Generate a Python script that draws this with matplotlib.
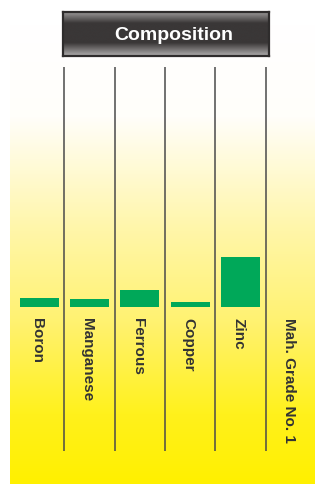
import matplotlib.pyplot as plt
import numpy as np
from matplotlib.colors import LinearSegmentedColormap

categories = ["Boron", "Manganese", "Ferrous", "Copper", "Zinc", "Mah. Grade No. 1"]
bar_values = [0.87, 0.8, 1.7, 0.5, 5.0]
title = "Composition"

W, H = 315, 485
fig = plt.figure(figsize=(W / 100, H / 100), dpi=100)
FONT = ["Liberation Sans", "DejaVu Sans"]


def px_axes(x0, y0, x1, y1, **kw):
    # axes from pixel box (top-left origin)
    return fig.add_axes([x0 / W, 1 - y1 / H, (x1 - x0) / W, (y1 - y0) / H], **kw)


# background gradient: white at top to yellow at bottom
bg = px_axes(10, 25, 315, 485)
bg.set_axis_off()
grad_cmap = LinearSegmentedColormap.from_list(
    "wy", [(0.0, "#ffffff"), (0.2, "#fffefa"), (0.45, "#fff6a8"),
           (0.65, "#fff270"), (0.85, "#fff11c"), (1.0, "#fff000")]
)
g = np.linspace(0, 1, 256).reshape(-1, 1)
bg.imshow(g, aspect="auto", cmap=grad_cmap, extent=[0, 1, 0, 1], origin="upper")
bg.set_xlim(0, 1)
bg.set_ylim(0, 1)

# title bar with metallic gradient
tb = px_axes(63, 13, 269, 57)
tb.set_xticks([])
tb.set_yticks([])
for s in tb.spines.values():
    s.set_color("#2e2c2c")
    s.set_linewidth(1.6)
metal = LinearSegmentedColormap.from_list(
    "metal", [(0.0, "#9a9898"), (0.25, "#3a3737"), (0.7, "#3a3737"), (1.0, "#b0aeae")]
)
tb.imshow(g, aspect="auto", cmap=metal, extent=[0, 1, 0, 1], origin="upper")
tb.set_xlim(0, 1)
tb.set_ylim(0, 1)
tb.text(0.54, 0.5, title, color="white", fontsize=14, fontweight="bold",
        family=FONT, ha="center", va="center", transform=tb.transAxes)

# main chart
ax = px_axes(14, 68, 316, 452)
ax.patch.set_alpha(0)
ax.set_axis_off()
ax.set_xlim(-0.5, len(categories) - 0.5)
ax.set_ylim(-14.4, 24)

x = np.arange(len(bar_values))
ax.bar(x, bar_values, width=0.78, color="#00a859", zorder=3)

for i in range(len(categories) - 1):
    ax.axvline(i + 0.5, color="#4a4a4a", linewidth=1.1, zorder=2)

for i, lab in enumerate(categories):
    ax.text(i - 0.04, -1.0, lab, rotation=-90, ha="center", va="top",
            fontsize=11, fontweight="bold", color="#333333",
            family=FONT, zorder=4)

fig.savefig("out.png", dpi=100)
